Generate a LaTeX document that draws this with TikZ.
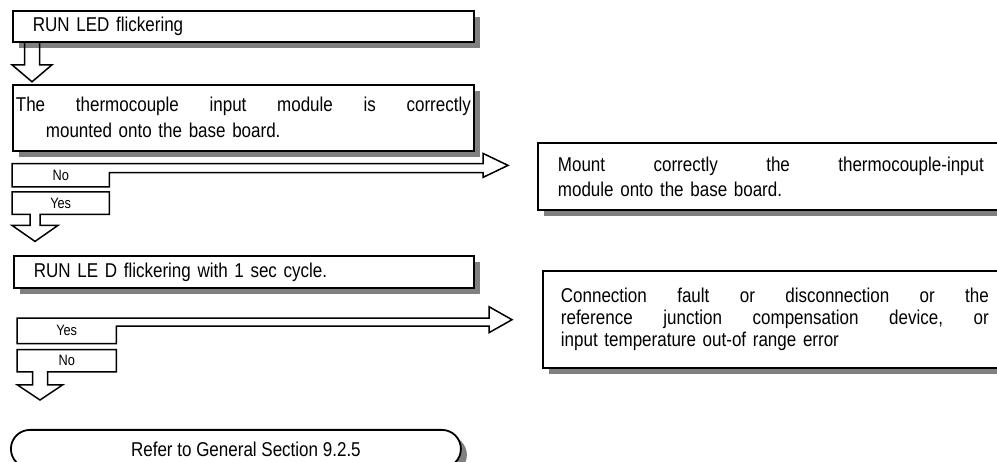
\documentclass[tikz,border=0pt]{standalone}
\usepackage{fontspec}
\setmainfont{Liberation Sans}[FakeStretch=0.85]
\usepackage{tikz}
\usetikzlibrary{
  positioning,
  calc,
  shadows
}
\newcommand{\spreadline}[2]{\leavevmode\hbox to #1{#2}}

\begin{document}
\begin{tikzpicture}[
  x=1pt, y=-1pt,
  box/.style={draw, line width=1.8pt, fill=white, anchor=north west,
              inner xsep=3pt, inner ysep=0pt, align=left,
              font=\fontsize{20}{26}\selectfont,
              drop shadow={shadow xshift=6pt, shadow yshift=-6pt,
                           fill=black!50, opacity=1}},
  tag/.style={anchor=north west, inner sep=0pt, minimum height=22pt,
              font=\fontsize{15}{17}\selectfont},
  blk/.style={draw, line width=1.5pt, line join=miter},
]
\useasboundingbox (0,0) rectangle (997,462);

\node[box, minimum width=461pt, minimum height=31pt, text width=455pt] (led) at (12,10)
  {\hspace*{17pt}RUN LED flickering};
\node[box, minimum width=461pt, minimum height=66pt, text width=455pt,
      below right=41pt and 0pt of led.south west] (seated)
  {\spreadline{455pt}{The\hfill thermocouple\hfill input\hfill module\hfill is\hfill correctly}\\
   \hspace*{30pt}mounted onto the base board.};
\node[tag, minimum width=97pt, minimum height=23pt,
      below right=12pt and 0pt of seated.south west] (no1) {No};
\node[tag, minimum width=97pt, below right=5pt and 0pt of no1.south west] (yes1) {Yes};
\node[box, minimum width=460pt, minimum height=32pt, text width=454pt,
      below right=41pt and 1pt of yes1.south west] (blink)
  {\hspace*{17pt}RUN LE D flickering with 1 sec cycle.};
\node[tag, minimum width=99pt, minimum height=25pt,
      below right=29pt and 4pt of blink.south west] (yes2) {Yes};
\node[tag, minimum width=99pt, below right=6pt and 0pt of yes2.south west] (no2) {No};
\node[box, rounded corners=19pt, minimum width=450pt, minimum height=38pt,
      align=center, below right=57pt and -7pt of no2.south west] (refer)
  {\hspace*{20pt}Refer to General Section 9.2.5};

\node[box, inner xsep=20pt, text width=426pt, minimum height=67pt,
      font=\fontsize{20}{25}\selectfont] (mount) at (537,142)
  {\spreadline{426pt}{Mount\hfill correctly\hfill the\hfill thermocouple-input}\\
   module onto the base board.};
\node[box, inner xsep=18pt, text width=428pt, minimum height=97pt,
      font=\fontsize{20}{22}\selectfont,
      below right=59pt and 5pt of mount.south west] (fault)
  {\spreadline{428pt}{Connection\hfill fault\hfill or\hfill disconnection\hfill or\hfill the}\\
   \spreadline{428pt}{reference\hfill junction\hfill compensation\hfill device,\hfill or}\\
   input temperature out-of range error};

\coordinate (tipA) at ($(mount.west)+(-29,-11)$);
\coordinate (tipB) at ($(blink.north west)+(22,-14)$);
\coordinate (tipC) at ($(fault.west)+(-30,0.5)$);
\coordinate (tipD) at ($(refer.north west)+(30,-29)$);

\draw[blk] let \p1=($(led.south west)+(20,0)$), \p2=($(seated.north west)+(20,-2)$) in
  (\x1-7.5pt,\y1) -- (\x1-7.5pt,\y2+17pt) -- (\x1-20pt,\y2+17pt) -- (\p2)
  -- (\x1+20pt,\y2+17pt) -- (\x1+7.5pt,\y2+17pt) -- (\x1+7.5pt,\y1);

\draw[blk] let \p1=(no1.north west), \p2=(no1.south east), \p3=(tipA) in
  (\p1) -- (\x3-25pt,\y1) -- (\x3-25pt,\y3+12pt) -- (\p3) -- (\x3-25pt,\y3-12pt)
  -- (\x3-25pt,\y1-9pt) -- (\x2,\y1-9pt) -- (\p2) -- (\x1,\y2) -- cycle;

\draw[blk] let \p1=(yes1.north west), \p2=(yes1.south east), \p3=(tipB) in
  (\p1) -- (\x2,\y1) -- (\p2) -- (\x3+5pt,\y2) -- (\x3+5pt,\y3+16pt)
  -- (\x3+23pt,\y3+16pt) -- (\p3) -- (\x3-23pt,\y3+16pt) -- (\x3-5pt,\y3+16pt)
  -- (\x3-5pt,\y2) -- (\x1,\y2) -- cycle;

\draw[blk] let \p1=(yes2.north west), \p2=(yes2.south east), \p3=(tipC) in
  (\p1) -- (\x3-23pt,\y1) -- (\x3-23pt,\y3+13pt) -- (\p3) -- (\x3-23pt,\y3-13pt)
  -- (\x3-23pt,\y1-8pt) -- (\x2,\y1-8pt) -- (\p2) -- (\x1,\y2) -- cycle;

\draw[blk] let \p1=(no2.north west), \p2=(no2.south east), \p3=(tipD) in
  (\p1) -- (\x2,\y1) -- (\p2) -- (\x3+7.5pt,\y2) -- (\x3+7.5pt,\y3+15pt)
  -- (\x3+22.5pt,\y3+15pt) -- (\p3) -- (\x3-22.5pt,\y3+15pt) -- (\x3-7.5pt,\y3+15pt)
  -- (\x3-7.5pt,\y2) -- (\x1,\y2) -- cycle;

\end{tikzpicture}
\end{document}
